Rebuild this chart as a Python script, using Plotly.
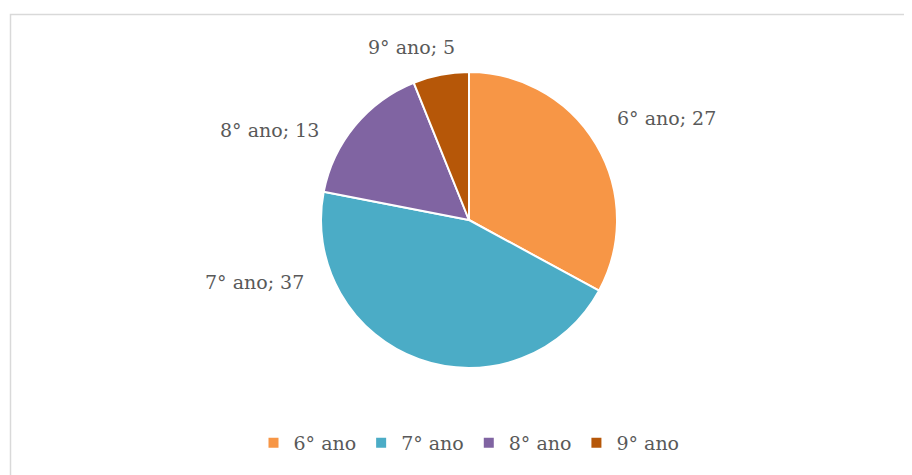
import plotly.graph_objects as go

# Data
categories = ["6° ano", "7° ano", "8° ano", "9° ano"]
values = [27, 37, 13, 5]
colors = ["#F79646", "#4BACC6", "#8064A2", "#B65708"]

W, H = 912, 475
OFF = 8  # page body margin offset
FONT = "DejaVu Serif"
TXT = "#595959"

def px(x):
    return (x - OFF) / W

def py(y):
    return 1 - (y - OFF) / H

# pie geometry (pixels)
cx, cy, r = 469, 220, 148

fig = go.Figure(go.Pie(
    labels=categories,
    values=values,
    marker=dict(colors=colors, line=dict(color="white", width=2)),
    sort=False,
    direction="clockwise",
    rotation=0,
    textinfo="none",
    hoverinfo="label+value",
    domain=dict(x=[px(cx - r), px(cx + r)], y=[py(cy + r), py(cy - r)]),
    showlegend=True,
))

# data-label positions (pixel centers), text from data
label_pos = [(666, 118), (254, 282), (269, 130), (411, 47)]
for cat, val, (lx, ly) in zip(categories, values, label_pos):
    fig.add_annotation(
        x=px(lx), y=py(ly), xref="paper", yref="paper",
        text=f"{cat}; {val}", showarrow=False,
        xanchor="center", yanchor="middle",
        font=dict(family=FONT, size=19, color=TXT),
    )

# chart-area border
fig.add_shape(type="rect", xref="paper", yref="paper",
              x0=px(10.5), y0=-0.05, x1=1.05, y1=py(14.5),
              line=dict(color="#D9D9D9", width=1.5), fillcolor="rgba(0,0,0,0)")

fig.update_layout(
    width=W, height=H,
    margin=dict(l=0, r=0, t=0, b=0),
    paper_bgcolor="white",
    plot_bgcolor="white",
    font=dict(family=FONT, size=19, color=TXT),
    legend=dict(
        orientation="h",
        x=px(469), xanchor="center",
        y=py(443), yanchor="middle",
        font=dict(family=FONT, size=19, color=TXT),
        itemwidth=30,
        traceorder="normal",
    ),
)

fig.write_html("out.html")
